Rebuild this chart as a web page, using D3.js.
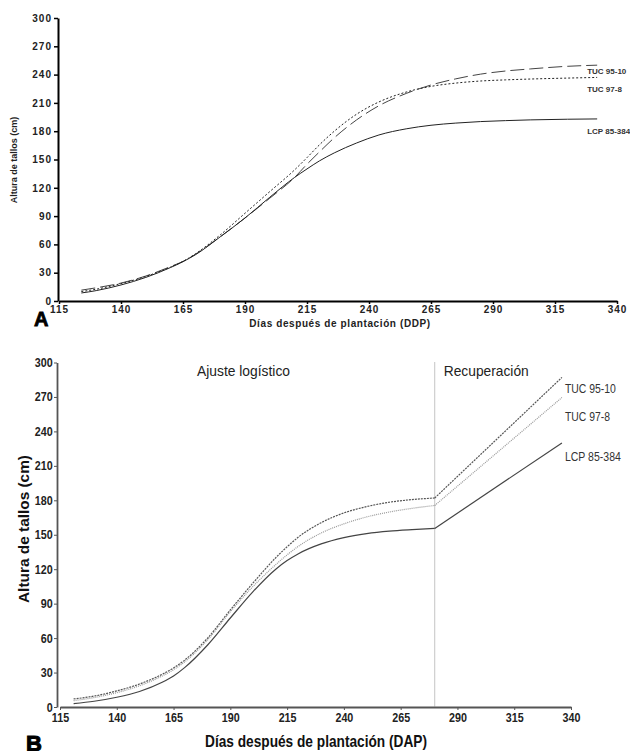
<!DOCTYPE html>
<html>
<head>
<meta charset="utf-8">
<script src="https://cdn.jsdelivr.net/npm/d3@7"></script>
<style>
	body { margin: 0; background: #fff; }
	svg { display: block; }
	.axisA text { font-family: "Liberation Sans", Arial, sans-serif; font-weight: bold; font-size: 10px; letter-spacing: 1px; fill: #222; }
	.axisB text { font-family: "Liberation Sans", Arial, sans-serif; font-weight: bold; font-size: 12.5px; fill: #222; }
</style>
</head>
<body>
<div id="chart"></div>
<script>
var width = 630,
	height = 751;

// nombres de las variedades
var variedades = ["TUC 95-10", "TUC 97-8", "LCP 85-384"];

var ticksX = [115, 140, 165, 190, 215, 240, 265, 290, 315, 340];
var ticksY = [0, 30, 60, 90, 120, 150, 180, 210, 240, 270, 300];

// panel A
var diasA = [124, 130, 140, 150, 160, 165, 170, 180, 190, 200, 210, 215, 220, 226, 235, 244, 255, 265, 275, 285, 295, 305, 320, 332];
var tuc9510A = [11.5, 14, 19, 26.5, 36.5, 42, 49.5, 68, 88, 109, 131, 145, 158, 173, 192, 207, 220, 229, 235.5, 240.5, 243.8, 246, 248.8, 250];
var tuc978A = [10, 12.5, 18.5, 26, 36, 42, 50, 70, 93, 116, 139, 152, 165.5, 180, 198, 211, 221.5, 227.5, 231, 233.2, 234.4, 235.3, 236.3, 237];
var lcpA = [8.5, 11, 17, 25, 35.5, 41.7, 49, 68, 88, 110, 131, 140, 148.5, 157, 167.5, 176, 182.5, 186.3, 188.6, 190.2, 191.2, 192, 192.7, 193];

// panel B - ajuste logistico hasta el corte, luego recuperacion
var diasB = [121, 130, 140, 150, 160, 165, 170, 180, 190, 200, 210, 215, 220, 230, 240, 250, 260, 270, 280, 336];
var tuc9510B = [7, 9.5, 14, 20, 28.5, 34, 41, 60, 84.5, 108, 130, 139.5, 148, 160.5, 169, 174.5, 178.3, 180.6, 182, 287];
var tuc978B = [5.5, 8.2, 12.5, 18.5, 27, 32.5, 39.5, 58.5, 83, 105, 124, 132.5, 140, 151.5, 159.5, 165.5, 169.8, 173, 175.5, 269.5];
var lcpB = [3, 5, 8.5, 13.5, 21.5, 27, 34.5, 54, 77.5, 100.5, 120, 127.5, 133.5, 142, 147.5, 151, 153.2, 154.5, 155.5, 230];
var diaCorte = 280;

var svg = d3.select("#chart").append("svg")
	.attr("width", width)
	.attr("height", height);

svg.append("rect")
	.attr("width", width)
	.attr("height", height)
	.attr("fill", "#fff");

// ================= PANEL A =================
var xA = d3.scaleLinear().domain([115, 340]).range([59, 617]);
var yA = d3.scaleLinear().domain([0, 300]).range([301, 18]);

var gA = svg.append("g");

gA.append("g")
	.attr("class", "axisA")
	.attr("transform", "translate(0,301)")
	.call(d3.axisBottom(xA).tickValues(ticksX).tickSize(3).tickSizeOuter(0).tickPadding(2));

gA.append("g")
	.attr("class", "axisA")
	.attr("transform", "translate(58,0)")
	.call(d3.axisLeft(yA).tickValues(ticksY).tickSize(4).tickSizeOuter(0).tickPadding(2));

gA.selectAll(".axisA .domain").attr("stroke", "#000").attr("stroke-width", 2);
gA.selectAll(".axisA .tick line").attr("stroke", "#000").attr("stroke-width", 1.5);

var seriesA = [
	{nombre: variedades[0], v: tuc9510A, dash: "14,5", color: "#444", dy: 9},
	{nombre: variedades[1], v: tuc978A, dash: "2,2", color: "#222", dy: 14.5},
	{nombre: variedades[2], v: lcpA, dash: null, color: "#222", dy: 15}
];

var lineaA = d3.line()
	.x(function(d) { return xA(d[0]); })
	.y(function(d) { return yA(d[1]); })
	.curve(d3.curveMonotoneX);

seriesA.forEach(function(s) {
	var pts = d3.zip(diasA, s.v);
	gA.append("path")
		.datum(pts)
		.attr("d", lineaA)
		.attr("fill", "none")
		.attr("stroke", s.color)
		.attr("stroke-width", 1)
		.attr("stroke-dasharray", s.dash);

	var ult = pts[pts.length - 1];
	gA.append("text")
		.attr("x", xA(ult[0]) - 10)
		.attr("y", yA(ult[1]) + s.dy)
		.style("font-family", "Liberation Sans, Arial, sans-serif")
		.style("font-weight", "bold")
		.style("font-size", "8px")
		.style("fill", "#333")
		.text(s.nombre);
});

// titulos A
gA.append("text")
	.attr("transform", "translate(17,160) rotate(-90)")
	.attr("text-anchor", "middle")
	.style("font-family", "Liberation Sans, Arial, sans-serif")
	.style("font-weight", "bold")
	.style("font-size", "9px")
	.style("fill", "#222")
	.text("Altura de tallos (cm)");

gA.append("text")
	.attr("x", 340)
	.attr("y", 327)
	.attr("text-anchor", "middle")
	.style("font-family", "Liberation Sans, Arial, sans-serif")
	.style("font-weight", "bold")
	.style("font-size", "10px")
	.style("letter-spacing", "0.6px")
	.style("fill", "#222")
	.text("Días después de plantación (DDP)");

gA.append("text")
	.attr("x", 34)
	.attr("y", 326)
	.style("font-family", "Liberation Sans, Arial, sans-serif")
	.style("font-weight", "bold")
	.style("font-size", "20px")
	.style("fill", "#000")
	.style("stroke", "#000")
	.style("stroke-width", 0.8)
	.text("A");

// ================= PANEL B =================
var xB = d3.scaleLinear().domain([115, 340]).range([60, 571]);
var yB = d3.scaleLinear().domain([0, 300]).range([707, 362.5]);

var gB = svg.append("g");

gB.append("g")
	.attr("class", "axisB")
	.attr("transform", "translate(0,707)")
	.call(d3.axisBottom(xB).tickValues(ticksX).tickSize(3).tickSizeOuter(0).tickPadding(3));

gB.append("g")
	.attr("class", "axisB")
	.attr("transform", "translate(57,0)")
	.call(d3.axisLeft(yB).tickValues(ticksY).tickSize(3).tickSizeOuter(0).tickPadding(2));

gB.selectAll(".axisB .domain").attr("stroke", "#555").attr("stroke-width", 1.8);
gB.selectAll(".axisB .tick line").attr("stroke", "#555").attr("stroke-width", 1);
// numeros angostos como en el original
gB.selectAll(".axisB .tick text").attr("transform", "scale(0.86,1)");

// linea de corte
gB.append("line")
	.attr("x1", xB(diaCorte))
	.attr("x2", xB(diaCorte))
	.attr("y1", yB(300))
	.attr("y2", yB(0))
	.attr("stroke", "#888")
	.attr("stroke-width", 1)
	.attr("stroke-dasharray", "1,1");

var seriesB = [
	{nombre: variedades[0], v: tuc9510B, dash: "2,1", color: "#555", dy: 15.5, ancho: 51},
	{nombre: variedades[1], v: tuc978B, dash: "1,1", color: "#999", dy: 23.5, ancho: 45},
	{nombre: variedades[2], v: lcpB, dash: null, color: "#444", dy: 18.5, ancho: 56}
];

var lineaLog = d3.line()
	.x(function(d) { return xB(d[0]); })
	.y(function(d) { return yB(d[1]); })
	.curve(d3.curveMonotoneX);

var lineaRec = d3.line()
	.x(function(d) { return xB(d[0]); })
	.y(function(d) { return yB(d[1]); });

seriesB.forEach(function(s) {
	var pts = d3.zip(diasB, s.v);
	var log = pts.filter(function(d) { return d[0] <= diaCorte; });
	var rec = pts.filter(function(d) { return d[0] >= diaCorte; });

	gB.append("path")
		.datum(log)
		.attr("d", lineaLog)
		.attr("fill", "none")
		.attr("stroke", s.color)
		.attr("stroke-width", 1.2)
		.attr("stroke-dasharray", s.dash);

	gB.append("path")
		.datum(rec)
		.attr("d", lineaRec)
		.attr("fill", "none")
		.attr("stroke", s.color)
		.attr("stroke-width", 1.2)
		.attr("stroke-dasharray", s.dash);

	var ult = pts[pts.length - 1];
	gB.append("text")
		.attr("x", xB(ult[0]) + 3)
		.attr("y", yB(ult[1]) + s.dy)
		.attr("textLength", s.ancho)
		.attr("lengthAdjust", "spacingAndGlyphs")
		.style("font-family", "Liberation Sans, Arial, sans-serif")
		.style("font-size", "12.5px")
		.style("fill", "#333")
		.text(s.nombre);
});

gB.append("text")
	.attr("x", 197)
	.attr("y", 376)
	.attr("textLength", 93)
	.attr("lengthAdjust", "spacingAndGlyphs")
	.style("font-family", "Liberation Sans, Arial, sans-serif")
	.style("font-size", "15px")
	.style("fill", "#222")
	.text("Ajuste logístico");

gB.append("text")
	.attr("x", xB(diaCorte) + 9)
	.attr("y", 376)
	.attr("textLength", 85)
	.attr("lengthAdjust", "spacingAndGlyphs")
	.style("font-family", "Liberation Sans, Arial, sans-serif")
	.style("font-size", "15px")
	.style("fill", "#222")
	.text("Recuperación");

gB.append("text")
	.attr("transform", "translate(29,529) rotate(-90)")
	.attr("text-anchor", "middle")
	.attr("textLength", 148)
	.attr("lengthAdjust", "spacingAndGlyphs")
	.style("font-family", "Liberation Sans, Arial, sans-serif")
	.style("font-weight", "bold")
	.style("font-size", "15px")
	.style("fill", "#111")
	.text("Altura de tallos (cm)");

gB.append("text")
	.attr("x", 316)
	.attr("y", 747)
	.attr("text-anchor", "middle")
	.attr("textLength", 222)
	.attr("lengthAdjust", "spacingAndGlyphs")
	.style("font-family", "Liberation Sans, Arial, sans-serif")
	.style("font-weight", "bold")
	.style("font-size", "17px")
	.style("fill", "#111")
	.text("Días después de plantación (DAP)");

gB.append("text")
	.attr("x", 26)
	.attr("y", 751)
	.style("font-family", "Liberation Sans, Arial, sans-serif")
	.style("font-weight", "bold")
	.style("font-size", "22px")
	.style("fill", "#000")
	.style("stroke", "#000")
	.style("stroke-width", 1)
	.text("B");
</script>
</body>
</html>
